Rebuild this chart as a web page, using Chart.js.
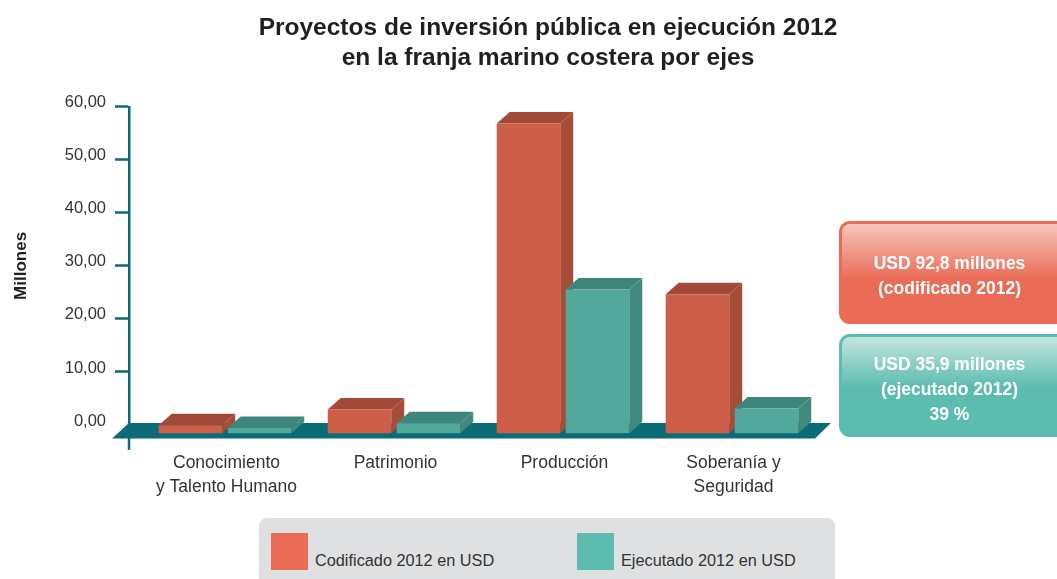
<!DOCTYPE html>
<html>
<head>
<meta charset="utf-8">
<script src="https://cdn.jsdelivr.net/npm/chart.js@4"></script>
<style>
  html, body { margin: 0; padding: 0; background: #fff; }
  #page { position: relative; width: 1057px; height: 579px; overflow: hidden; font-family: "Liberation Sans", sans-serif; }
  canvas { position: absolute; left: 0; top: 0; }
  .card { position: absolute; left: 839px; width: 218px; height: 103px; box-sizing: border-box; border: solid 3px; border-right: 0; border-bottom: 0; border-radius: 11px 0 0 11px; color: #fff; font-weight: bold; font-size: 17.5px; line-height: 25px; text-align: center; }
  .card.red { top: 221px; border-color: #ea6c57; padding-top: 27px; background: linear-gradient(#f6c6bc 0%, #ea6c57 55%); }
  .card.green { top: 334px; border-color: #5dbcb0; padding-top: 15px; background: linear-gradient(#c4e6e0 0%, #5dbcb0 50%); }
  #legendBox { position: absolute; left: 259px; top: 518px; width: 576px; height: 70px; background: #dfe0e2; border-radius: 8px; }
  .swatch { position: absolute; top: 15px; width: 37px; height: 37px; }
  .legendText { position: absolute; top: 31px; font-size: 16.3px; line-height: 22px; color: #333; white-space: nowrap; }
</style>
</head>
<body>
<div id="page">
  <canvas id="myChart" width="1057" height="579"></canvas>
  <div class="card red">USD 92,8 millones<br>(codificado 2012)</div>
  <div class="card green">USD 35,9 millones<br>(ejecutado 2012)<br>39 %</div>
  <div id="legendBox">
    <div class="swatch" style="left:12px;background:#ea6c57"></div>
    <div class="legendText" style="left:56px">Codificado 2012 en USD</div>
    <div class="swatch" style="left:318px;background:#5dbcb0"></div>
    <div class="legendText" style="left:362px">Ejecutado 2012 en USD</div>
  </div>
</div>
<script>
// Chart data
const categories = [['Conocimiento', 'y Talento Humano'], ['Patrimonio'], ['Producción'], ['Soberanía y', 'Seguridad']];
const codificado = [2.1, 5.1, 59.0, 26.8];
const ejecutado = [1.6, 2.5, 27.7, 5.3];
const seriesNames = ['Codificado 2012 en USD', 'Ejecutado 2012 en USD'];
const titleLines = ['Proyectos de inversión pública en ejecución 2012', 'en la franja marino costera por ejes'];

const tealAxis = '#0b6b76';
const depthX = 13;
const depthY = 11.5;
const faceColors = [
  { top: '#a24a37', side: '#a64d3a' },
  { top: '#3e867b', side: '#41897e' }
];

function polygon(c, points, color) {
  c.fillStyle = color;
  c.beginPath();
  points.forEach((p, i) => i ? c.lineTo(p[0], p[1]) : c.moveTo(p[0], p[1]));
  c.closePath();
  c.fill();
}

// Fake 3D: floor plus top and side faces around the real bars
const depthPlugin = {
  id: 'depth',
  afterLayout(chart) {
    // The title sits a bit right of the canvas middle
    chart.titleBlock.left = 100;
    chart.titleBlock.right = 996;
  },
  beforeDatasetsDraw(chart) {
    const c = chart.ctx;
    const area = chart.chartArea;
    const floorY = chart.scales.y.getPixelForValue(0.4);

    // axis stub under the floor
    c.save();
    c.strokeStyle = tealAxis;
    c.lineWidth = 2.5;
    c.beginPath();
    c.moveTo(area.left, floorY);
    c.lineTo(area.left, floorY + 27);
    c.stroke();
    polygon(c, [[area.left, floorY], [area.right, floorY], [area.right - 16, floorY + 15.5], [area.left - 17, floorY + 15.5]], tealAxis);

    chart.data.datasets.forEach((ds, d) => {
      const meta = chart.getDatasetMeta(d);
      meta.data.forEach(bar => {
        const l = bar.x - bar.width / 2;
        const r = bar.x + bar.width / 2;
        polygon(c, [[l, bar.y + depthY], [r, bar.y + depthY], [r + depthX, bar.y], [l + depthX, bar.y]], faceColors[d].top);
        polygon(c, [[r, bar.y + depthY], [r + depthX, bar.y], [r + depthX, bar.base], [r, bar.base + depthY]], faceColors[d].side);
      });
      // front face is the library's bar, pushed forward
      c.save();
      c.translate(0, depthY);
      meta.controller.draw();
      c.restore();
    });
    c.restore();
    return false;
  }
};

const ctx = document.getElementById('myChart');
const myChart = new Chart(ctx, {
  type: 'bar',
  plugins: [depthPlugin],
  data: {
    datasets: [
      {
        label: seriesNames[0],
        data: codificado.map((v, i) => ({ x: i, y: v })),
        backgroundColor: '#cd5f4a',
        base: 0.6
      },
      {
        label: seriesNames[1],
        data: ejecutado.map((v, i) => ({ x: i, y: v })),
        backgroundColor: '#52a89c',
        base: 0.6
      }
    ]
  },
  options: {
    responsive: false,
    animation: false,
    categoryPercentage: 0.817,
    barPercentage: 0.92,
    layout: { padding: { right: 226 } },
    plugins: {
      legend: { display: false },
      tooltip: { enabled: false },
      title: {
        display: true,
        text: titleLines,
        color: '#231f20',
        font: { family: 'Liberation Sans', size: 24.5, weight: 'bold', lineHeight: 1.22 },
        padding: { top: 13, bottom: 34 }
      }
    },
    scales: {
      x: {
        type: 'linear',
        offset: false,
        min: -0.568,
        max: 3.586,
        afterBuildTicks(scale) {
          scale.ticks = categories.map((c, i) => ({ value: i }));
        },
        afterFit(scale) {
          scale.height = 154;
        },
        grid: { display: false },
        border: { display: false },
        ticks: {
          padding: 18,
          labelOffset: 1.5,
          color: '#333',
          maxRotation: 0,
          autoSkip: false,
          font: { family: 'Liberation Sans', size: 17.5, lineHeight: 1.37 },
          callback: value => categories[value]
        }
      },
      y: {
        min: 0,
        max: 60,
        afterFit(scale) {
          scale.width = 129;
        },
        title: {
          display: true,
          text: 'Millones',
          color: '#231f20',
          font: { family: 'Liberation Sans', size: 17, weight: 'bold', lineHeight: 1.2 },
          padding: { top: 11, bottom: 0 }
        },
        grid: {
          drawOnChartArea: false,
          tickLength: 14,
          // no tick mark at zero, the floor starts there
          tickColor: c => c.tick.value === 0 ? 'transparent' : tealAxis,
          tickWidth: 2.5
        },
        border: { color: tealAxis, width: 2.5 },
        ticks: {
          stepSize: 10,
          padding: 9,
          labelOffset: -4,
          color: '#333',
          font: { family: 'Liberation Sans', size: 16.5 },
          callback: value => value.toFixed(2).replace('.', ',')
        }
      }
    }
  }
});
</script>
</body>
</html>
